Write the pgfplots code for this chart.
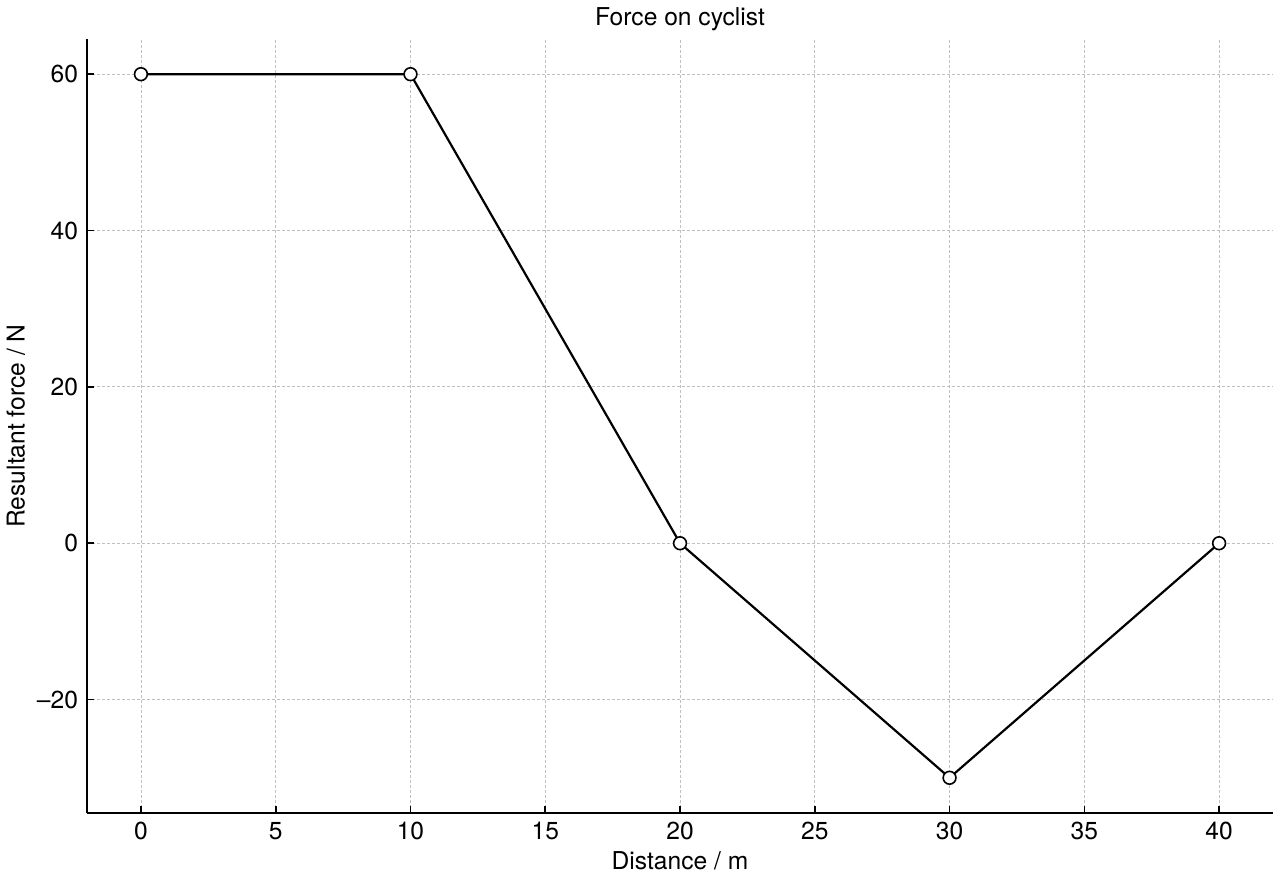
\documentclass[border=0pt]{standalone}
\usepackage{pgfplots}
\pgfplotsset{compat=1.18}
\usepackage{fontspec}
\setmainfont{TeX Gyre Heros}
\newcommand\chartfont{\fontsize{12.3pt}{14pt}\selectfont}
\begin{document}
\begin{tikzpicture}[font=\chartfont]
\begin{axis}[
  scale only axis, width=593pt, height=387pt,
  xmin=-2, xmax=42, ymin=-34.5, ymax=64.5,
  axis lines*=left, axis line style={line width=1pt},
  tick style={black, line width=0.8pt}, tick align=inside,
  major tick length=3.5pt,
  xtick={0,5,...,40}, ytick={-20,0,20,40,60},
  yticklabels={\textendash20,0,20,40,60},
  grid=major, grid style={gray!50, line width=0.4pt, dash pattern=on 1.5pt off 1pt},
  /pgf/number format/assume math mode=true,
  tick label style={font=\chartfont},
  label style={font=\chartfont},
  title style={font=\chartfont, yshift=-5.5pt},
  xticklabel style={yshift=-1pt}, yticklabel style={xshift=-1pt},
  title={Force on cyclist},
  xlabel={Distance / m}, ylabel={Resultant force / N},
  xlabel style={yshift=1pt}, ylabel style={yshift=-1pt},
  clip=false,
]
\addplot[black, line width=1.1pt, mark=*, mark options={fill=white, draw=black, line width=0.8pt}, mark size=3.2pt]
  coordinates {(0,60) (10,60) (20,0) (30,-30) (40,0)};
\coordinate (bl) at (axis description cs:-0.0734,-0.0866);
\coordinate (tr) at (axis description cs:1.0059,1.0504);
\end{axis}
\pgfresetboundingbox
\path (bl) rectangle (tr);
\end{tikzpicture}
\end{document}
